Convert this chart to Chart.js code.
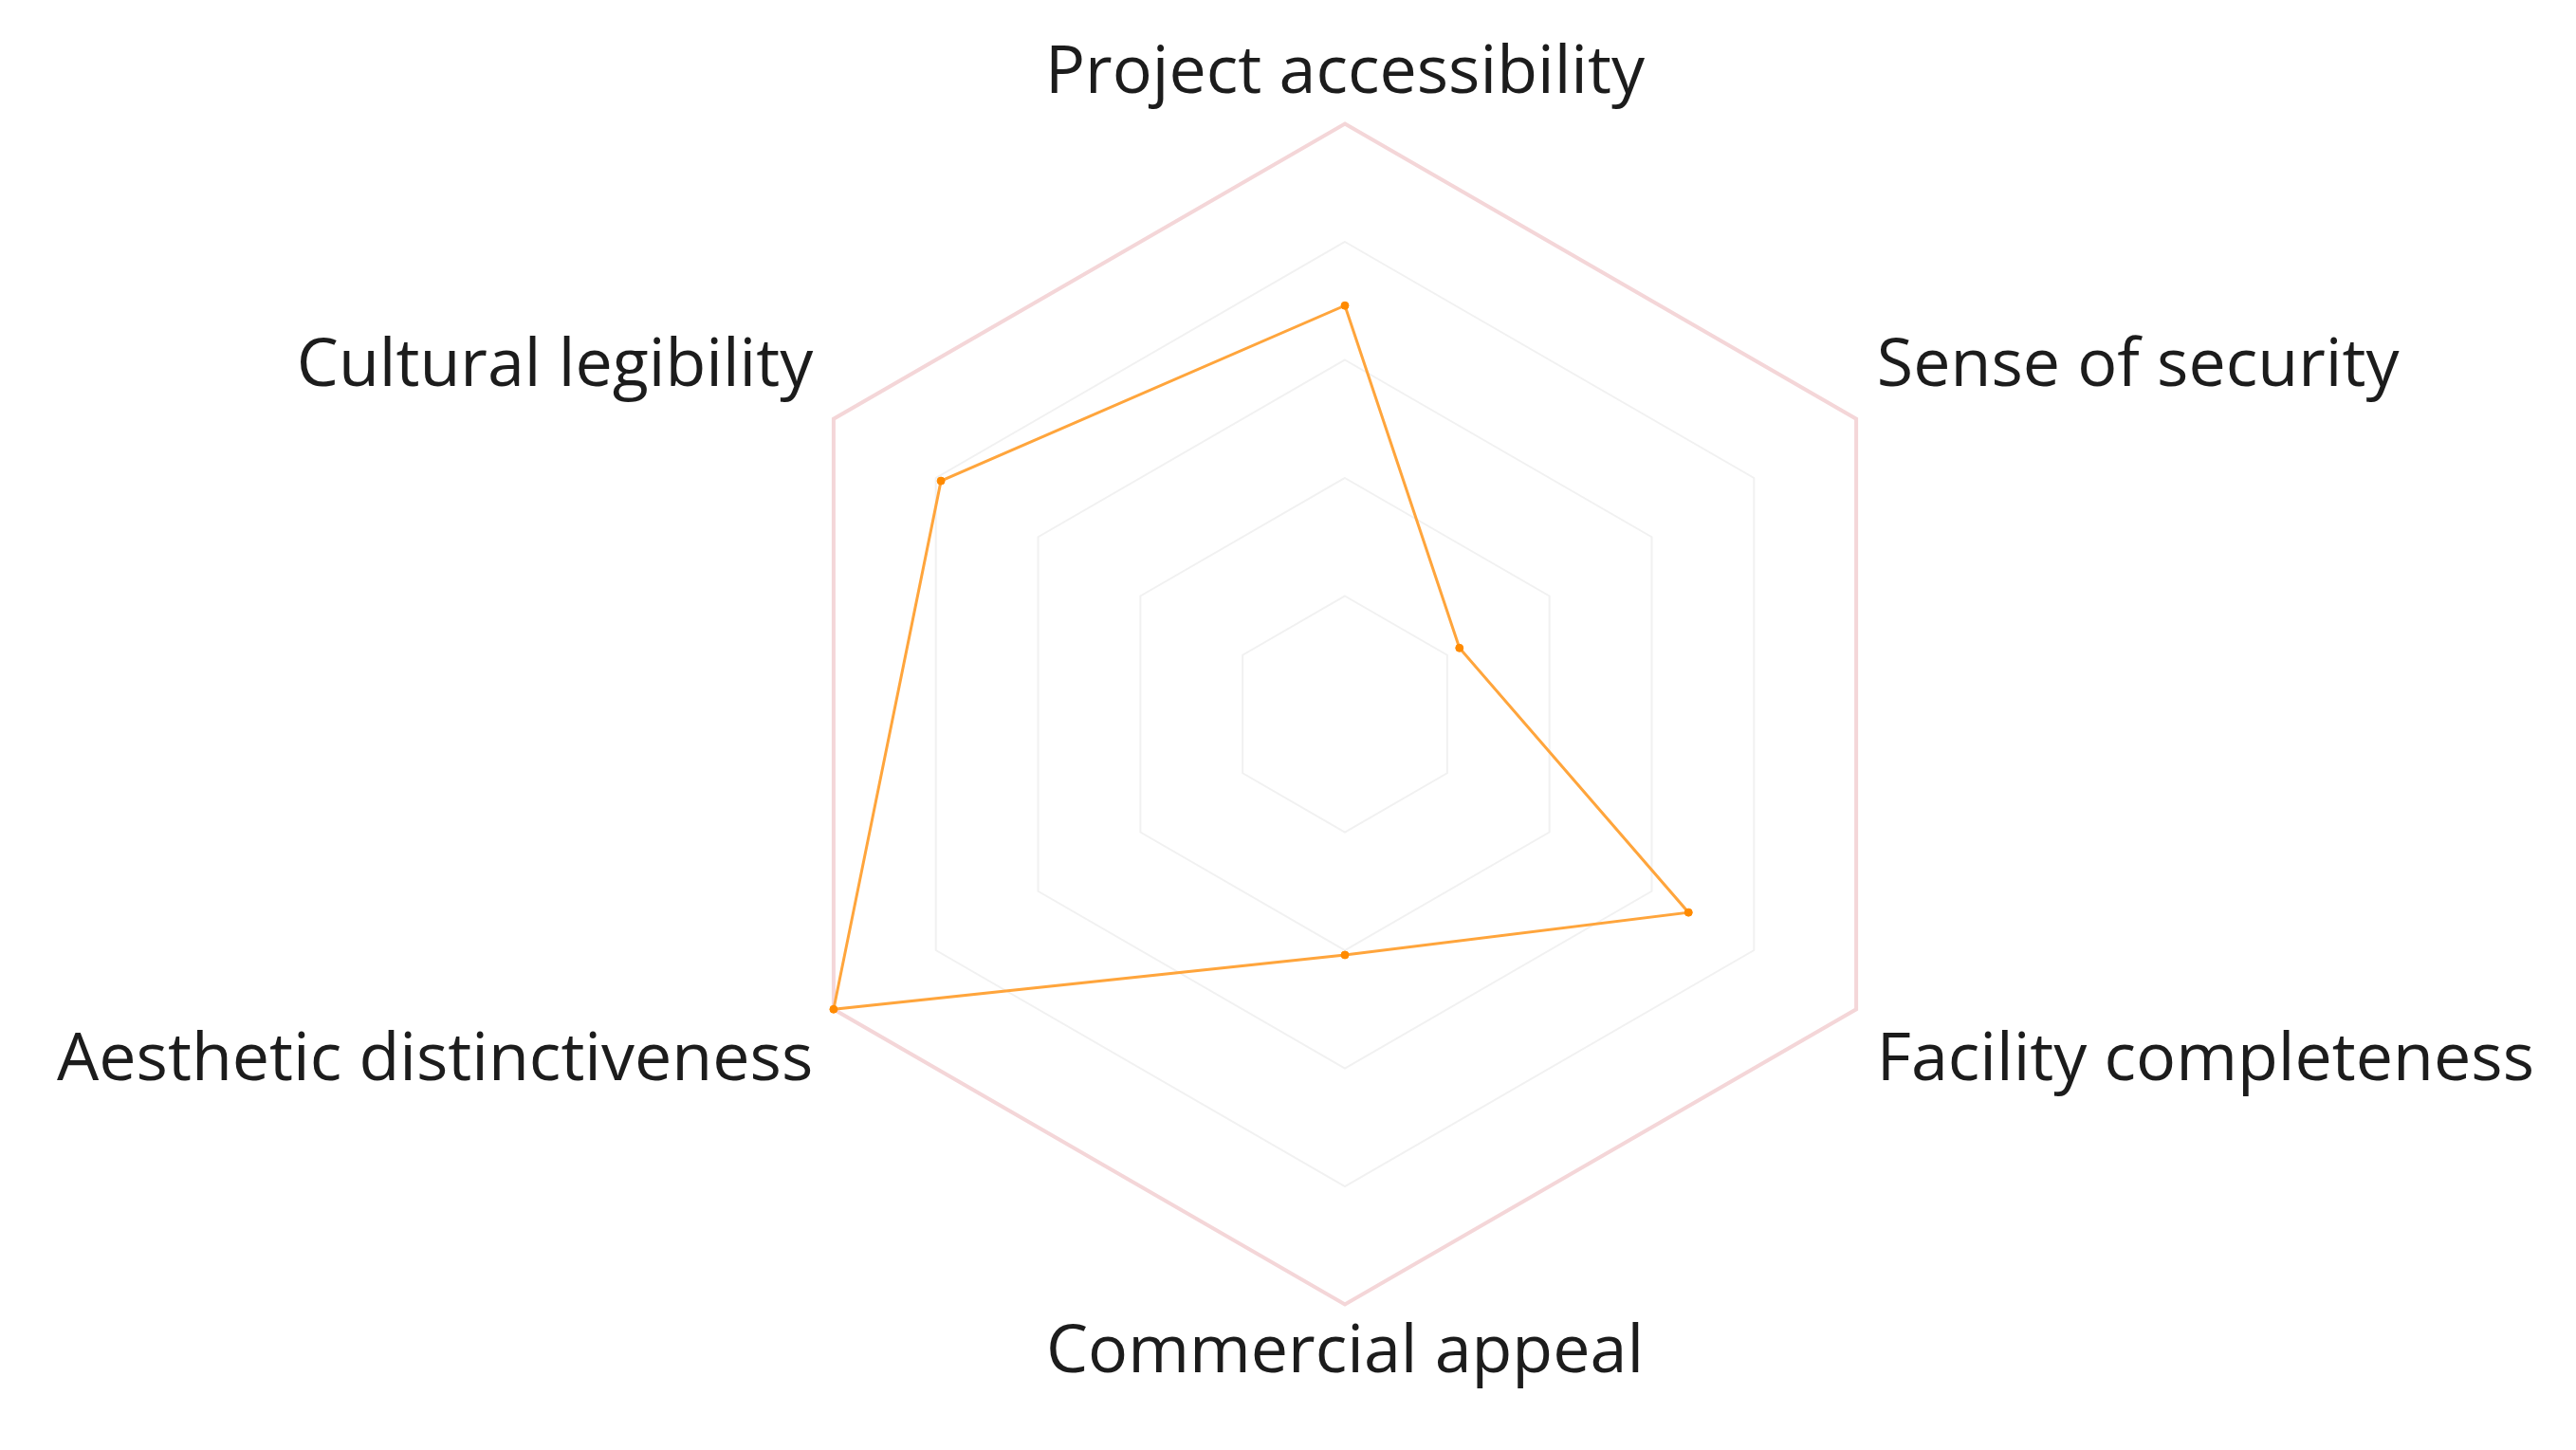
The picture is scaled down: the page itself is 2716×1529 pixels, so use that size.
<!DOCTYPE html>
<html>
<head>
<meta charset="utf-8">
<script src="https://cdn.jsdelivr.net/npm/chart.js@4"></script>
<style>
  html, body { margin: 0; padding: 0; background: #fff; }
  #wrap { width: 2716px; height: 1529px; }
</style>
</head>
<body>
<div id="wrap"><canvas id="radar-chart"></canvas></div>
<script>
const labels = ["Project accessibility", "Sense of security", "Facility completeness",
                "Commercial appeal", "Aesthetic distinctiveness", "Cultural legibility"];
const scores = [3.46, 1.12, 3.36, 2.04, 5.0, 3.95];
const levels = 5;

new Chart(document.getElementById("radar-chart").getContext('2d'), {
    type: 'radar',
    data: {
        labels: labels,
        datasets: [{
            data: scores,
            borderColor: "#ffa53c",
            backgroundColor: "rgba(0,0,0,0)",
            borderWidth: 3,
            pointRadius: 4,
            pointBackgroundColor: "#ff8a00",
            pointBorderColor: "#ff8a00",
            pointBorderWidth: 1,
            fill: false
        }]
    },
    options: {
        responsive: true,
        maintainAspectRatio: false,
        animation: false,
        layout: { padding: { top: 0, bottom: 22, left: 0, right: 0 } },
        plugins: { legend: { display: false }, tooltip: { enabled: false } },
        scales: {
            r: {
                min: 0,
                max: levels,
                ticks: { stepSize: 1, display: false },
                angleLines: { display: false },
                grid: {
                    color: ctx => ctx.index === levels ? "#f4d6d8" : "#f1f1f1",
                    lineWidth: ctx => ctx.index === levels ? 4 : 2
                },
                pointLabels: {
                    color: "#1c1c1c",
                    // top/bottom labels sit closer to the hexagon than the side ones
                    padding: ctx => (ctx.index === 0 || ctx.index === 3) ? 10 : 25,
                    font: { family: "'Open Sans', sans-serif", size: 70 }
                }
            }
        }
    }
});
</script>
</body>
</html>
